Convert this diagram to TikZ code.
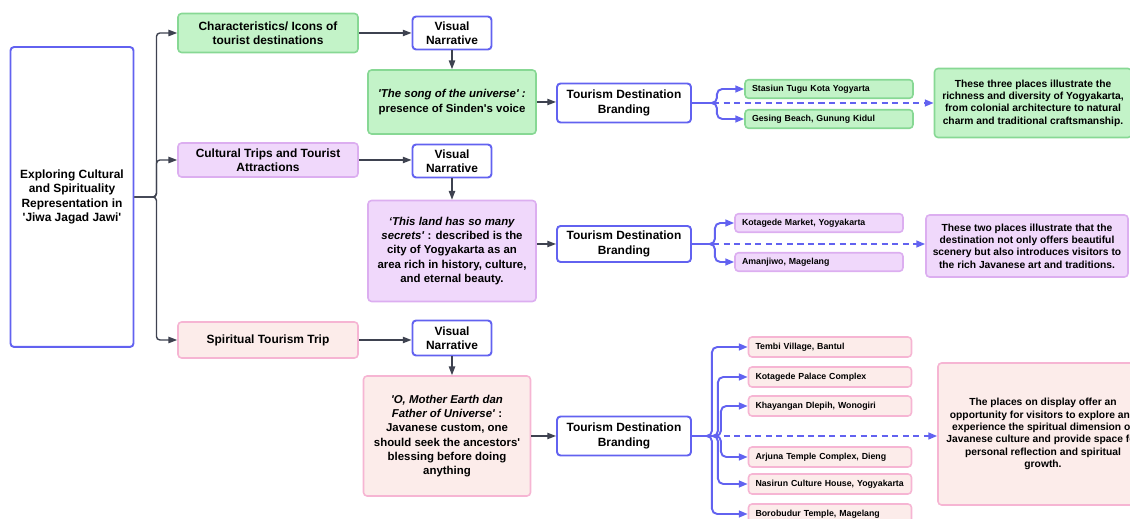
\documentclass[tikz,border=0pt]{standalone}
\usepackage{fontspec}
\setmainfont{Liberation Sans}[Ligatures=TeXOff]
\usetikzlibrary{arrows.meta}
\definecolor{gf}{RGB}{195,243,200}
\definecolor{gb}{RGB}{135,216,148}
\definecolor{pf}{RGB}{240,216,251}
\definecolor{pb}{RGB}{220,174,240}
\definecolor{kf}{RGB}{252,236,234}
\definecolor{kb}{RGB}{246,181,211}
\definecolor{bl}{RGB}{98,98,240}
\definecolor{dk}{RGB}{62,66,80}

\begin{document}
\begin{tikzpicture}[x=0.02cm, y=-0.02cm,
    box/.style={draw, rounded corners=2pt, align=center, inner sep=1pt, line width=0.9pt},
    hd/.style={font=\fontsize{6.8}{8.1}\selectfont\bfseries},
    qt/.style={font=\fontsize{6.5}{8.1}\selectfont\bfseries},
    rt/.style={font=\fontsize{5.85}{7}\selectfont\bfseries},
    gbox/.style={box, fill=gf, draw=gb},
    pbox/.style={box, fill=pf, draw=pb},
    kbox/.style={box, fill=kf, draw=kb},
    wbox/.style={box, fill=white, draw=bl, line width=1.1pt},
    place/.style={box, font=\fontsize{5}{6}\selectfont\bfseries, align=left,
        text width=3.08cm, inner xsep=0.14cm, minimum height=0.37cm},
    arr/.style={-{Triangle[length=5pt,width=3.6pt]}, dk, line width=0.8pt, rounded corners=2pt},
    barr/.style={-{Triangle[length=5pt,width=3.8pt]}, bl, line width=1.1pt, rounded corners=3pt},
    darr/.style={barr, dashed, dash pattern=on 3.5pt off 2.5pt}]

\useasboundingbox (0,0) rectangle (1130,519);

% ════════════════════════════════════════════════
%  ROOT and the three themes
% ════════════════════════════════════════════════
\node[wbox, hd, minimum width=2.46cm, minimum height=6cm] (main) at (72,197)
    {Exploring Cultural\\and Spirituality\\Representation in\\'Jiwa Jagad Jawi'};

\node[gbox, hd, minimum width=3.6cm, minimum height=0.78cm] (cat1) at (268,33)
    {Characteristics/ Icons of\\tourist destinations};
\node[pbox, hd, minimum width=3.6cm, minimum height=0.68cm] (cat2) at (268,160)
    {Cultural Trips and Tourist\\Attractions};
\node[kbox, hd, minimum width=3.6cm, minimum height=0.72cm] (cat3) at (268,340)
    {Spiritual Tourism Trip};

\draw[arr] (main.east) -- ++(22,0) |- (cat1.west);
\draw[arr] (main.east) -- ++(22,0) |- (cat2.west);
\draw[arr] (main.east) -- ++(22,0) |- (cat3.west);

% ════════════════════════════════════════════════
%  ROW 1 — icons of destinations
% ════════════════════════════════════════════════
\node[wbox, hd, minimum width=1.58cm, minimum height=0.66cm] (vn1) at (452,33) {Visual\\Narrative};
\node[gbox, qt, minimum width=3.36cm, minimum height=1.28cm] (q1) at (452,102)
    {\textit{'The song of the universe' :}\\presence of Sinden's voice};
\node[wbox, hd, minimum width=2.68cm, minimum height=0.78cm] (tdb1) at (624,103)
    {Tourism Destination\\Branding};

% places
\node[gbox, place] (stasiun) at (829,89) {Stasiun Tugu Kota Yogyarta};
\node[gbox, place] (gesing) at (829,119) {Gesing Beach, Gunung Kidul};

\node[gbox, rt, minimum width=3.94cm, minimum height=1.38cm] (r1) at (1033,103)
    {These three places illustrate the\\richness and diversity of Yogyakarta,\\from colonial architecture to natural\\charm and traditional craftsmanship.};

\draw[arr] (cat1.east) -- (cat1.east -| vn1.west);
\draw[arr] (vn1.south) -- (vn1.south |- q1.north);
\draw[arr] (q1.east) -- (q1.east -| tdb1.west);
\draw[barr] (tdb1.east) -- ++(25,0) |- (stasiun.west);
\draw[barr] (tdb1.east) -- ++(25,0) |- (gesing.west);
\draw[darr] (tdb1.east) -- (tdb1.east -| r1.west);

% ════════════════════════════════════════════════
%  ROW 2 — cultural trips
% ════════════════════════════════════════════════
\node[wbox, hd, minimum width=1.58cm, minimum height=0.66cm] (vn2) at (452,161) {Visual\\Narrative};
\node[pbox, qt, minimum width=3.36cm, minimum height=2.02cm] (q2) at (452,251)
    {\textit{‘This land has so many}\\\textit{secrets'} : described is the\\city of Yogyakarta as an\\area rich in history, culture,\\and eternal beauty.};
\node[wbox, hd, minimum width=2.68cm, minimum height=0.72cm] (tdb2) at (624,244)
    {Tourism Destination\\Branding};

% places
\node[pbox, place] (market) at (819,223) {Kotagede Market, Yogyakarta};
\node[pbox, place] (amanjiwo) at (819,262) {Amanjiwo, Magelang};

\node[pbox, rt, minimum width=4.04cm, minimum height=1.24cm] (r2) at (1027,246)
    {These two places illustrate that the\\destination not only offers beautiful\\scenery but also introduces visitors to\\the rich Javanese art and traditions.};

\draw[arr] (cat2.east) -- (cat2.east -| vn2.west);
\draw[arr] (vn2.south) -- (vn2.south |- q2.north);
\draw[arr] (q2.east |- tdb2.west) -- (tdb2.west);
\draw[barr] (tdb2.east) -- ++(23,0) |- (market.west);
\draw[barr] (tdb2.east) -- ++(23,0) |- (amanjiwo.west);
\draw[darr] (tdb2.east) -- (tdb2.east -| r2.west);

% ════════════════════════════════════════════════
%  ROW 3 — spiritual tourism
% ════════════════════════════════════════════════
\node[wbox, hd, minimum width=1.58cm, minimum height=0.7cm] (vn3) at (452,338) {Visual\\Narrative};
\node[kbox, qt, minimum width=3.34cm, minimum height=2.4cm] (q3) at (447,436)
    {\textit{'O, Mother Earth dan}\\\textit{Father of Universe'} :\\Javanese custom, one\\should seek the ancestors'\\blessing before doing\\anything};
\node[wbox, hd, minimum width=2.68cm, minimum height=0.78cm] (tdb3) at (624,436)
    {Tourism Destination\\Branding};

% places
\node[kbox, place, text width=2.98cm, minimum height=0.4cm] (tembi) at (830,347) {Tembi Village, Bantul};
\node[kbox, place, text width=2.98cm, minimum height=0.4cm] (palace) at (830,377) {Kotagede Palace Complex};
\node[kbox, place, text width=2.98cm, minimum height=0.4cm] (khayangan) at (830,406) {Khayangan Dlepih, Wonogiri};
\node[kbox, place, text width=2.98cm, minimum height=0.4cm] (arjuna) at (830,457) {Arjuna Temple Complex, Dieng};
\node[kbox, place, text width=2.98cm, minimum height=0.4cm] (nasirun) at (830,484) {Nasirun Culture House, Yogyakarta};
\node[kbox, place, text width=2.98cm, minimum height=0.4cm] (borobudur) at (830,514) {Borobudur Temple, Magelang};

\node[kbox, rt, minimum width=4.2cm, minimum height=2.84cm] (r3) at (1043,434)
    {The places on display offer an\\opportunity for visitors to explore and\\experience the spiritual dimension of\\Javanese culture and provide space for\\personal reflection and spiritual\\growth.};

\draw[arr] (cat3.east) -- (cat3.east -| vn3.west);
\draw[arr] (vn3.south) -- (vn3.south |- q3.north);
\draw[arr] (q3.east |- tdb3.west) -- (tdb3.west);
\draw[barr] (tdb3.east) -- ++(20,0) |- (tembi.west);
\draw[barr] (tdb3.east) -- ++(26,0) |- (palace.west);
\draw[barr] (tdb3.east) -- ++(29,0) |- (khayangan.west);
\draw[barr] (tdb3.east) -- ++(29,0) |- (arjuna.west);
\draw[barr] (tdb3.east) -- ++(26,0) |- (nasirun.west);
\draw[barr] (tdb3.east) -- ++(20,0) |- (borobudur.west);
\draw[darr] (tdb3.east) -- (tdb3.east -| r3.west);

\end{tikzpicture}
\end{document}
